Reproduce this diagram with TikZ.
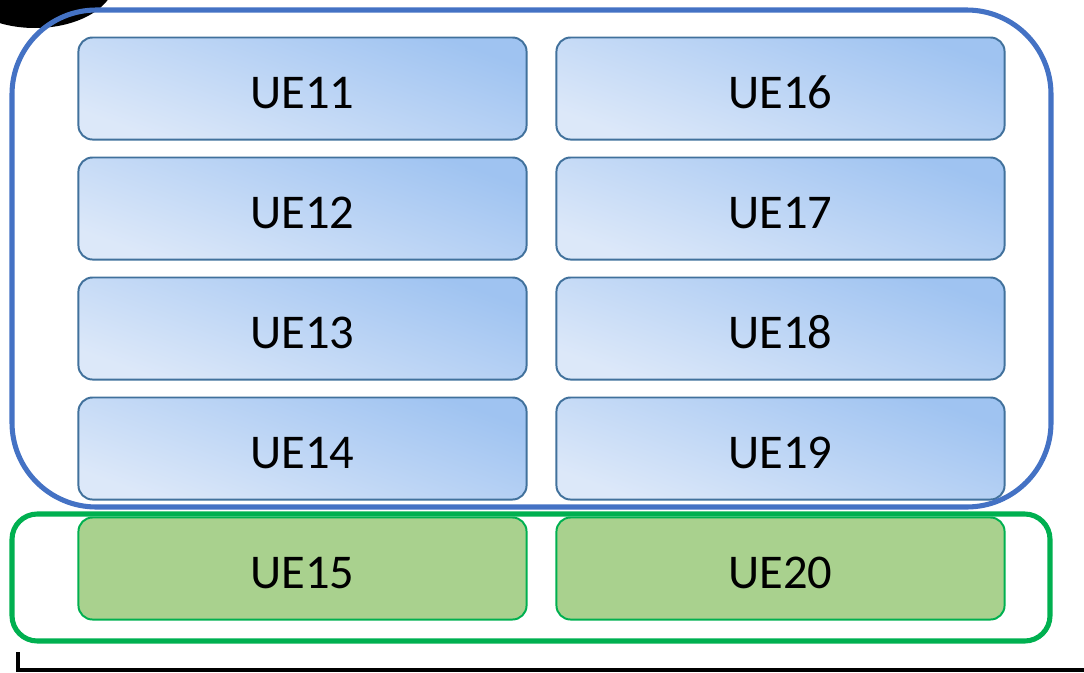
\documentclass[tikz,border=0pt]{standalone}
\usepackage{fontspec}
\setmainfont{Carlito}
\definecolor{uelight}{HTML}{DCE8F9}
\definecolor{uedark}{HTML}{9FC3F1}
\definecolor{ueline}{HTML}{41719C}
\definecolor{grpblue}{HTML}{4472C4}
\definecolor{grpgreen}{HTML}{00B050}
\definecolor{uegreen}{HTML}{A9D18E}
\begin{document}
\begin{tikzpicture}
  [x=0.025cm,y=-0.025cm,
   every node/.style={rounded corners=10pt,minimum width=11.2cm,minimum height=2.55cm,
     font=\fontsize{34.5}{40}\selectfont,text height=29pt,text depth=0pt,line width=1.4pt},
   uebox/.style={draw=ueline,shading=axis,top color=uedark,bottom color=uelight,shading angle=-20},
   uegrn/.style={draw=grpgreen,fill=uegreen}]
  \useasboundingbox (0,0) rectangle (1084,672);
  \begin{scope}
    \clip (0,0) rectangle (1084,672);
    \fill[black] (35,-20) ellipse [x radius=80,y radius=48];
  \end{scope}
  \node[uebox] (ue11) at (302.5,88.5) {UE11};
  \node[uebox] (ue12) at (302.5,208.5) {UE12};
  \node[uebox] (ue13) at (302.5,328.5) {UE13};
  \node[uebox] (ue14) at (302.5,448.5) {UE14};
  \node[uegrn] (ue15) at (302.5,568.5) {UE15};
  \node[uebox] (ue16) at (780.5,88.5) {UE16};
  \node[uebox] (ue17) at (780.5,208.5) {UE17};
  \node[uebox] (ue18) at (780.5,328.5) {UE18};
  \node[uebox] (ue19) at (780.5,448.5) {UE19};
  \node[uegrn] (ue20) at (780.5,568.5) {UE20};
  % groups
  \draw[grpblue,line width=3.6pt,rounded corners=60pt] (12,10) rectangle (1051,507);
  \draw[grpgreen,line width=3.6pt,rounded corners=18pt] (12,514) rectangle (1050,641);
  \draw[black,line width=3pt] (18,652) -- (18,670) -- (1084,670);
\end{tikzpicture}
\end{document}
